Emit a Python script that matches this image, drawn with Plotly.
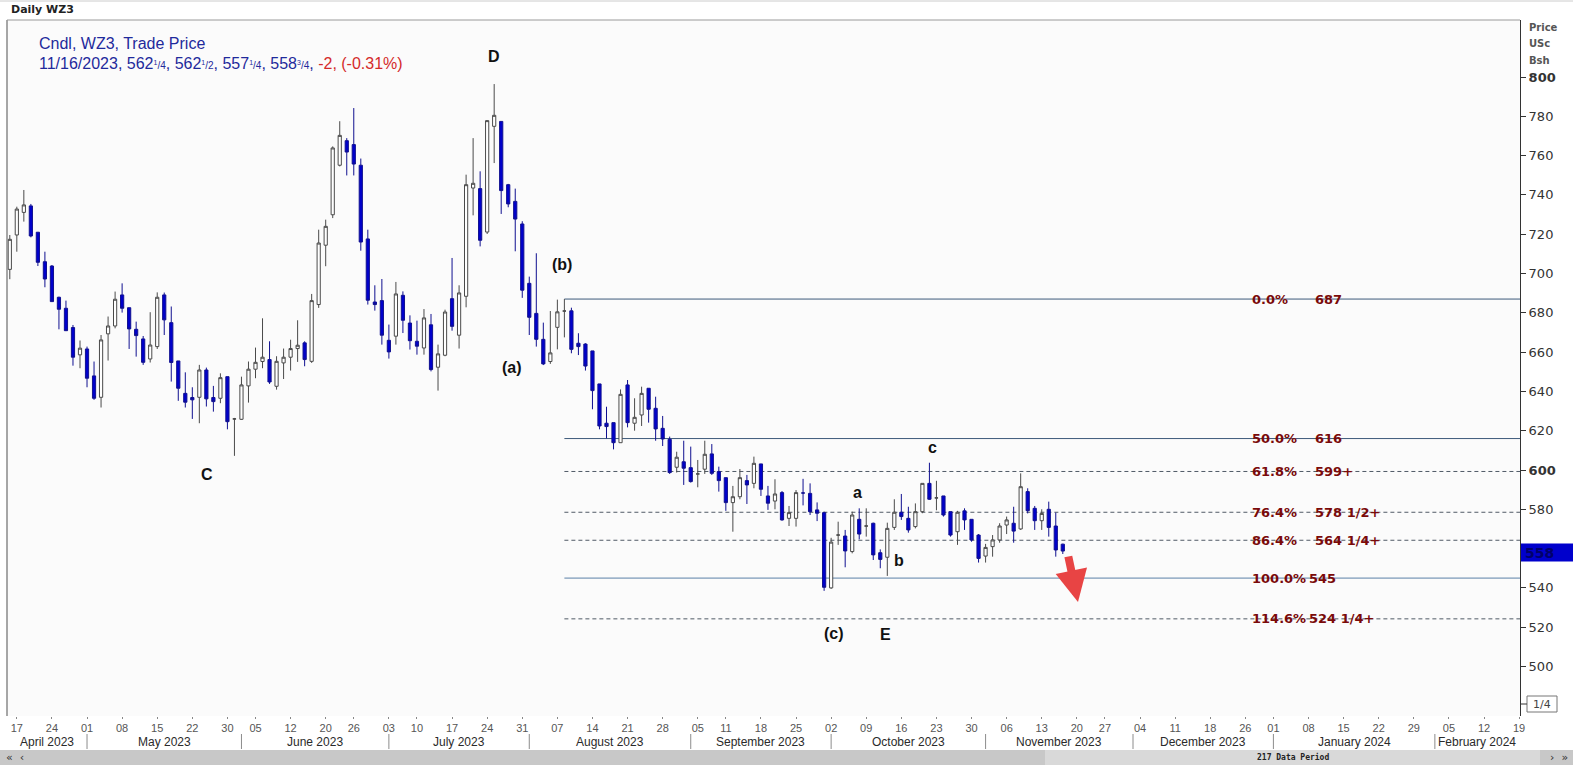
import pandas as pd
import plotly.graph_objects as go

# ---------------- data ----------------
holidays = ["2023-05-29", "2023-06-19", "2023-07-04", "2023-09-04", "2023-11-23", "2023-12-25"]
session_days = [d.strftime("%Y-%m-%d") for d in pd.bdate_range("2023-04-14", "2024-02-23")
                if d.strftime("%Y-%m-%d") not in holidays]

opens = [702.1, 719.6, 731.1, 734.4, 721.0, 706.0, 703.8, 687.9, 682.3, 672.5,
         658.6, 661.6, 647.9, 637.0, 669.3, 673.3, 689.1, 682.6, 671.6, 666.7,
         656.5, 662.8, 689.1, 675.0, 655.5, 639.0, 636.9, 637.0, 650.9, 636.9,
         636.5, 647.5, 626.0, 625.8, 642.8, 651.3, 655.2, 656.2, 642.6, 654.5,
         657.4, 661.8, 664.7, 655.3, 684.2, 714.4, 729.9, 755.1, 767.6, 765.6,
         755.1, 717.6, 685.5, 686.2, 666.0, 668.1, 688.9, 674.8, 665.5, 662.1,
         673.9, 652.3, 658.4, 687.2, 668.6, 688.4, 743.5, 743.2, 721.1, 774.9,
         777.4, 745.2, 736.7, 725.2, 695.0, 679.7, 666.5, 655.2, 672.6, 680.9,
         681.0, 664.5, 664.1, 660.6, 643.8, 623.8, 624.1, 613.9, 643.3, 623.8,
         628.0, 641.6, 631.4, 621.2, 615.6, 601.4, 604.2, 601.2, 598.0, 600.4,
         608.2, 599.2, 596.1, 583.4, 586.4, 594.6, 593.2, 603.1, 586.8, 584.2,
         588.5, 575.4, 575.4, 588.3, 588.1, 579.7, 578.3, 540.0, 566.9, 566.4,
         558.5, 574.9, 571.5, 572.9, 557.9, 555.6, 570.8, 578.5, 575.4, 571.2,
         578.8, 593.2, 585.8, 586.8, 578.8, 568.6, 579.2, 574.9, 566.9, 556.2,
         561.0, 564.4, 572.0, 572.9, 570.0, 589.0, 580.5, 574.2, 580.0, 571.5,
         562.25]
highs = [719.6, 734.0, 742.5, 735.4, 721.0, 711.1, 704.3, 688.2, 686.2, 673.8,
         665.9, 662.8, 655.2, 668.7, 678.1, 690.8, 695.0, 682.6, 675.5, 668.2,
         680.3, 690.4, 690.3, 683.2, 655.5, 649.7, 642.1, 653.5, 652.1, 642.8,
         649.2, 647.5, 626.5, 647.5, 655.2, 662.3, 677.2, 665.5, 657.9, 661.8,
         666.3, 676.2, 665.5, 689.6, 722.3, 727.4, 764.7, 777.5, 768.9, 784.2,
         758.5, 722.3, 694.0, 697.2, 674.0, 695.7, 690.9, 678.7, 676.0, 681.9,
         679.4, 663.8, 681.6, 707.9, 694.0, 750.3, 768.9, 752.0, 777.8, 796.4,
         777.4, 745.6, 743.2, 726.6, 698.4, 710.3, 675.0, 680.9, 686.7, 687.0,
         682.6, 669.6, 664.5, 660.6, 643.8, 632.2, 624.1, 641.0, 645.8, 636.5,
         642.4, 641.6, 637.3, 627.5, 617.0, 609.3, 614.9, 611.9, 605.1, 614.9,
         613.2, 601.7, 596.1, 591.9, 600.5, 597.5, 606.8, 603.1, 591.9, 595.3,
         589.3, 581.7, 589.8, 595.5, 593.2, 583.5, 578.8, 565.5, 573.7, 569.5,
         578.8, 580.5, 580.5, 573.2, 559.6, 573.2, 585.1, 587.8, 581.3, 583.0,
         593.2, 603.7, 594.5, 586.8, 578.8, 579.2, 580.5, 574.9, 567.4, 562.4,
         566.9, 572.9, 576.3, 581.3, 598.3, 590.7, 581.7, 580.0, 583.9, 578.3,
         562.5]
lows = [697.1, 711.1, 726.4, 718.4, 703.8, 693.0, 685.7, 671.6, 670.9, 653.1,
        651.8, 642.1, 635.7, 631.8, 655.7, 672.1, 680.1, 661.6, 657.7, 653.5,
        654.7, 661.6, 668.7, 645.0, 635.2, 631.8, 626.0, 623.8, 632.3, 629.7,
        634.0, 620.7, 607.2, 625.5, 634.3, 646.7, 651.8, 643.8, 640.9, 646.3,
        650.6, 655.0, 652.8, 654.5, 682.5, 703.7, 728.2, 754.5, 749.9, 749.9,
        711.6, 684.2, 681.1, 663.8, 656.7, 663.8, 669.7, 661.3, 658.7, 658.7,
        650.2, 640.4, 657.9, 670.9, 661.8, 682.8, 729.6, 713.8, 720.1, 756.2,
        730.3, 733.7, 711.3, 687.6, 668.7, 662.8, 653.4, 654.0, 661.4, 667.5,
        659.4, 658.5, 650.6, 630.9, 620.7, 616.1, 610.5, 613.9, 621.7, 620.0,
        622.4, 624.1, 614.9, 612.2, 598.0, 598.7, 592.4, 593.6, 591.2, 598.0,
        597.5, 589.0, 579.2, 568.6, 585.1, 582.7, 590.7, 586.8, 579.7, 580.0,
        574.2, 571.5, 571.2, 582.0, 577.1, 574.0, 538.5, 539.5, 561.9, 550.5,
        557.6, 564.7, 566.1, 554.2, 550.0, 546.1, 569.5, 574.6, 568.1, 570.3,
        578.0, 584.8, 579.5, 576.3, 566.1, 561.9, 569.5, 563.5, 552.9, 552.9,
        555.9, 563.0, 567.4, 563.0, 569.5, 577.9, 569.5, 569.5, 566.1, 555.9,
        557.25]
closes = [717.4, 732.8, 734.9, 719.1, 705.7, 697.2, 685.7, 681.8, 670.9, 657.4,
          662.0, 646.7, 636.5, 666.2, 673.3, 686.9, 682.3, 671.8, 668.4, 654.8,
          663.6, 687.9, 676.4, 654.7, 641.6, 634.5, 635.7, 650.9, 636.2, 634.8,
          647.0, 624.6, 626.0, 643.3, 651.3, 654.8, 657.4, 644.8, 655.3, 657.4,
          661.8, 663.5, 656.2, 686.2, 715.5, 724.0, 763.9, 770.3, 761.8, 755.7,
          716.0, 686.4, 684.2, 668.6, 660.1, 689.6, 676.2, 665.8, 663.0, 677.4,
          651.1, 659.1, 680.4, 673.1, 690.1, 745.2, 745.9, 716.9, 777.8, 780.5,
          742.2, 735.4, 727.7, 691.5, 677.7, 666.5, 654.0, 659.6, 680.5, 680.9,
          661.4, 662.8, 652.9, 640.4, 622.4, 622.1, 613.9, 638.5, 624.1, 626.8,
          639.0, 630.9, 620.9, 615.8, 598.7, 606.5, 600.9, 594.1, 598.0, 608.0,
          598.3, 594.6, 583.4, 586.4, 596.1, 592.4, 603.4, 590.2, 583.1, 587.8,
          574.6, 578.3, 588.5, 588.3, 578.8, 578.0, 540.3, 563.3, 566.9, 558.8,
          577.1, 567.4, 571.5, 556.8, 554.5, 570.3, 578.5, 576.3, 569.5, 578.8,
          593.2, 585.1, 585.8, 577.1, 566.9, 578.5, 574.6, 564.4, 555.0, 560.6,
          564.4, 571.5, 574.6, 568.9, 591.5, 579.3, 574.2, 577.9, 570.8, 559.3,
          558.75]

candle_dates = session_days[:len(closes)]

tick_dates = ["2023-04-17", "2023-04-24", "2023-05-01", "2023-05-08", "2023-05-15", "2023-05-22",
              "2023-05-30", "2023-06-05", "2023-06-12", "2023-06-20", "2023-06-26", "2023-07-03",
              "2023-07-10", "2023-07-17", "2023-07-24", "2023-07-31", "2023-08-07", "2023-08-14",
              "2023-08-21", "2023-08-28", "2023-09-05", "2023-09-11", "2023-09-18", "2023-09-25",
              "2023-10-02", "2023-10-09", "2023-10-16", "2023-10-23", "2023-10-30", "2023-11-06",
              "2023-11-13", "2023-11-20", "2023-11-27", "2023-12-04", "2023-12-11", "2023-12-18",
              "2023-12-26", "2024-01-01", "2024-01-08", "2024-01-15", "2024-01-22", "2024-01-29",
              "2024-02-05", "2024-02-12", "2024-02-19"]
tick_labels = [d[-2:] for d in tick_dates]

month_starts = ["2023-05-01", "2023-06-01", "2023-07-03", "2023-08-01", "2023-09-01",
                "2023-10-02", "2023-11-01", "2023-12-01", "2024-01-01", "2024-02-01"]
month_names = ["April 2023", "May 2023", "June 2023", "July 2023", "August 2023",
               "September 2023", "October 2023", "November 2023", "December 2023",
               "January 2024", "February 2024"]

fib_start = "2023-08-08"
fib_pcts = ["0.0%", "50.0%", "61.8%", "76.4%", "86.4%", "100.0%", "114.6%"]
fib_values = [687, 616, 599.25, 578.5, 564.25, 545, 524.25]
fib_texts = ["687", "616", "599+", "578 1/2+", "564 1/4+", "545", "524 1/4+"]

wave_labels = ["D", "(b)", "(a)", "C", "c", "a", "b", "(c)", "E"]
wave_x = [69.0, 78.7, 71.5, 28.1, 131.4, 120.7, 126.7, 117.4, 124.8]
wave_y = [810.2, 704.8, 652.4, 597.5, 611.2, 588.8, 553.7, 517.0, 516.5]

y_ticks = list(range(500, 801, 20))
last_price = 558

# ---------------- layout geometry ----------------
W, H = 1573, 765
PL, PR, PT, PB = 7, 1520, 20, 716
X0_PX, DX_PX = 9.8, 7.02
Y800_PX, PX_PER_UNIT = 77.0, 1.965


def xi(px):
    return (px - X0_PX) / DX_PX


def yv(py):
    return 800 - (py - Y800_PX) / PX_PER_UNIT


def xp(px):
    return (px - PL) / (PR - PL)


def yp(py):
    return (PB - py) / (PB - PT)


XMIN, XMAX = xi(PL), xi(PR)
YMIN, YMAX = yv(PB), yv(PT)


def idx_paper(i):
    return (i - XMIN) / (XMAX - XMIN)


def note(x, y, text, size, color, family="DejaVu Sans", xanchor="center", xref="paper",
         yref="paper"):
    return dict(xref=xref, yref=yref, x=x, y=y, text=text, showarrow=False,
                xanchor=xanchor, yanchor="middle",
                font=dict(family=family, size=size, color=color))


pos = {d: i for i, d in enumerate(session_days)}
xs = [pos[d] for d in candle_dates]

fig = go.Figure()
fig.add_trace(go.Candlestick(
    x=xs, open=opens, high=highs, low=lows, close=closes,
    increasing=dict(fillcolor="#ffffff", line=dict(color="#4a4a4a", width=1)),
    decreasing=dict(fillcolor="#0000cc", line=dict(color="#101090", width=1)),
    whiskerwidth=0, showlegend=False, hoverinfo="skip"))

shapes = []
annotations = []

# fib lines
for pct, val, txt in zip(fib_pcts, fib_values, fib_texts):
    solid = pct in ("0.0%", "50.0%", "100.0%")
    color = "#3d5a7a" if pct != "100.0%" else "#5b80a8"
    shapes.append(dict(type="line", xref="x", yref="y", x0=pos[fib_start], x1=XMAX,
                       y0=val, y1=val, layer="below",
                       line=dict(color=color if solid else "#505a66", width=1,
                                 dash="solid" if solid else "4px,3px")))
    annotations.append(note(xp(1250), val, f"<b>{pct}</b>", 13, "#7a0a0a",
                            xanchor="left", yref="y"))
    annotations.append(note(xp(1313 if len(pct) < 6 else 1307), val, f"<b>{txt}</b>", 13,
                            "#7a0a0a", xanchor="left", yref="y"))

# wave labels
for t, x, y in zip(wave_labels, wave_x, wave_y):
    annotations.append(note(x, y, f"<b>{t}</b>", 16, "#111111", family="Liberation Sans",
                            xref="x", yref="y"))

# red arrow
annotations.append(dict(xref="x", yref="y", x=xi(1078), y=yv(602), ax=-10, ay=-47, text="",
                        showarrow=True, arrowhead=2, arrowsize=0.8, arrowwidth=8,
                        arrowcolor="#e84444", standoff=0))

# header texts
annotations.append(note(xp(37), yp(44), "Cndl, WZ3, Trade Price", 16, "#1f2a9c",
                        family="Liberation Sans", xanchor="left"))
frac = "<span style='font-size:10px'>{}</span>"
line2 = ("11/16/2023, 562" + frac.format("<sup>1</sup>/4") + ", 562" + frac.format("<sup>1</sup>/2") +
         ", 557" + frac.format("<sup>1</sup>/4") + ", 558" + frac.format("<sup>3</sup>/4") +
         ", <span style='color:#d42a2a'>-2, (-0.31%)</span>")
annotations.append(note(xp(37), yp(64), line2, 16, "#1f2a9c", family="Liberation Sans",
                        xanchor="left"))
annotations.append(note(xp(9), yp(10), "<b>Daily WZ3</b>", 11, "#222222", xanchor="left"))

# right axis header
for k, t in enumerate(["Price", "USc", "Bsh"]):
    annotations.append(note(xp(1527), yp(28 + 16 * k), f"<b>{t}</b>", 10, "#555555",
                            xanchor="left"))

# last price box
shapes.append(dict(type="rect", xref="paper", yref="y", x0=xp(1521), x1=xp(1573),
                   y0=last_price - 4.6, y1=last_price + 4.6, fillcolor="#0000cc",
                   line=dict(width=0)))
annotations.append(note(xp(1523), last_price, f"<b>{last_price}</b>", 14, "#00006a",
                        xanchor="left", yref="y"))

# 1/4 box
shapes.append(dict(type="rect", xref="paper", yref="paper", x0=xp(1527), x1=xp(1557),
                   y0=yp(712), y1=yp(696), line=dict(color="#777777", width=1),
                   fillcolor="#ffffff"))
shapes.append(dict(type="line", xref="paper", yref="paper", x0=xp(1520), x1=xp(1527),
                   y0=yp(704), y1=yp(704), line=dict(color="#333333", width=1)))
annotations.append(note(xp(1542), yp(704), "1/4", 11, "#444444"))

# frame
shapes.append(dict(type="line", xref="paper", yref="paper", x0=xp(PL), x1=xp(PL),
                   y0=yp(PT), y1=yp(PB), line=dict(color="#8a8a8a", width=1.5)))
shapes.append(dict(type="line", xref="paper", yref="paper", x0=xp(PL), x1=xp(PR),
                   y0=yp(PT), y1=yp(PT), line=dict(color="#9a9a9a", width=1)))
shapes.append(dict(type="line", xref="paper", yref="paper", x0=xp(0), x1=xp(W),
                   y0=yp(1), y1=yp(1), line=dict(color="#cccccc", width=1)))

# month labels and separators
bounds = [XMIN] + [pos[m] for m in month_starts] + [XMAX]
for m in month_starts:
    px_ = idx_paper(pos[m])
    shapes.append(dict(type="line", xref="paper", yref="paper", x0=px_, x1=px_,
                       y0=yp(734), y1=yp(749), line=dict(color="#8c8c8c", width=1)))
for k, name in enumerate(month_names):
    c = (bounds[k] + bounds[k + 1]) / 2
    annotations.append(note(idx_paper(c), yp(742), name, 12, "#2a2a2a",
                            family="Liberation Sans Narrow, Arial Narrow, Liberation Sans"))

# scrollbar
shapes.append(dict(type="rect", xref="paper", yref="paper", x0=xp(0), x1=xp(W),
                   y0=yp(765), y1=yp(750), fillcolor="#c8c8c8", line=dict(width=0)))
shapes.append(dict(type="rect", xref="paper", yref="paper", x0=xp(1045), x1=xp(1540),
                   y0=yp(765), y1=yp(750), fillcolor="#d9d9d9", line=dict(width=0)))
annotations.append(note(xp(1293), yp(757), "<b>217 Data Period</b>", 8, "#222222",
                        family="DejaVu Sans Mono"))
annotations.append(note(xp(4), yp(757), "«  ‹", 11, "#333333", xanchor="left"))
annotations.append(note(xp(1570), yp(757), "›  »", 11, "#333333", xanchor="right"))

y_text = ["" if v == 560 else (f"<b>{v}</b>" if v in (600, 800) else str(v)) for v in y_ticks]

fig.update_layout(
    width=W, height=H,
    margin=dict(l=PL, r=W - PR, t=PT, b=H - PB, pad=0),
    paper_bgcolor="#ffffff", plot_bgcolor="#fbfbfb",
    showlegend=False, boxgap=0.35,
    xaxis=dict(range=[XMIN, XMAX], tickmode="array",
               tickvals=[pos[d] for d in tick_dates], ticktext=tick_labels,
               ticks="outside", ticklen=2, tickcolor="#888888", showgrid=False,
               zeroline=False, showline=False, rangeslider=dict(visible=False),
               tickfont=dict(family="Liberation Sans Narrow, Arial Narrow, Liberation Sans",
                             size=11, color="#555555")),
    yaxis=dict(range=[YMIN, YMAX], side="right", tickmode="array", tickvals=y_ticks,
               ticktext=y_text, ticks="outside", ticklen=5, tickcolor="#333333",
               showgrid=False, zeroline=False, showline=True, linecolor="#333333",
               linewidth=1, tickfont=dict(family="DejaVu Sans", size=13, color="#333333")),
    shapes=shapes, annotations=annotations,
)

fig.write_html("out.html", config={"displayModeBar": False},
               post_script="document.body.style.margin='0px';")
